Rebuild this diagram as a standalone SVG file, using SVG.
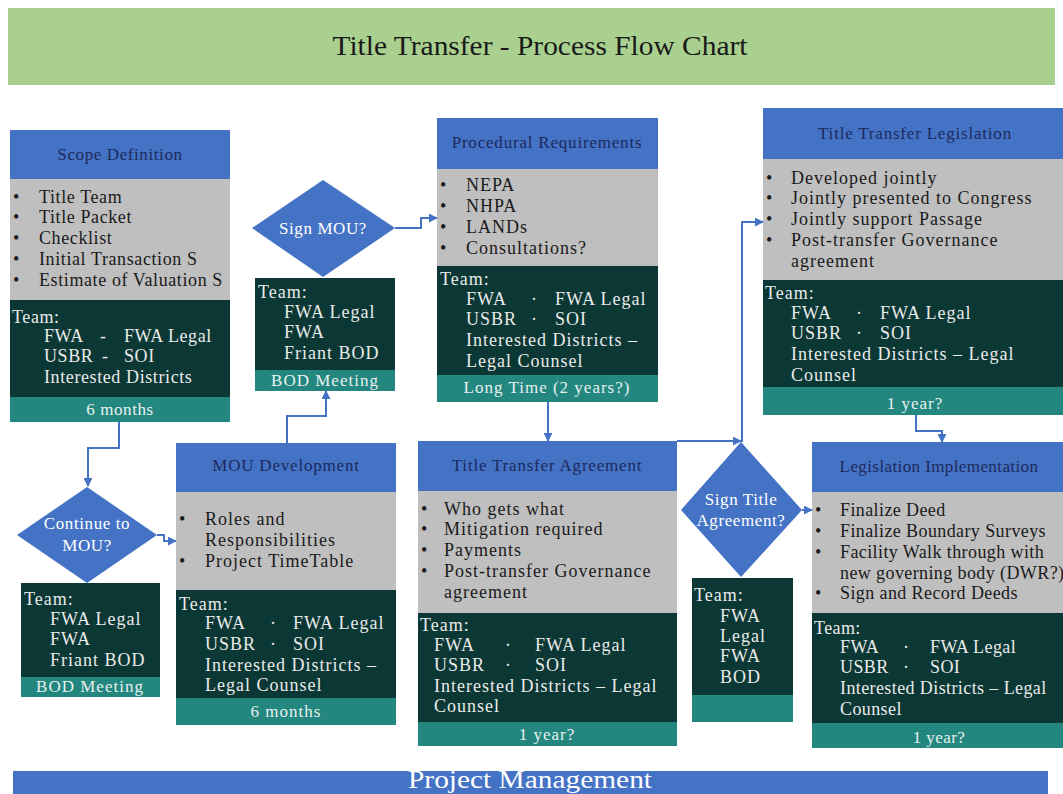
<svg xmlns="http://www.w3.org/2000/svg" width="1063" height="794" viewBox="0 0 1063 794">
<defs>
<style>
text{font-family:"Liberation Serif","Times New Roman",serif;font-size:18px;letter-spacing:1px}
.hd{fill:#4472c4}
.gy{fill:#bfbfbf}
.dk{fill:#0b3834}
.tl{fill:#23877f}
.ht{fill:#1c2a5e;text-anchor:middle;font-size:17px;letter-spacing:0.8px}
.bt{fill:#1a1a1a}
.tt{fill:#eaeaea}
.ft{fill:#e8f0ef;text-anchor:middle;font-size:17px}
.dm{fill:#4472c4}
.dt{fill:#ffffff;text-anchor:middle;font-size:17px;letter-spacing:0.6px}
.cn{fill:none;stroke:#4472c4;stroke-width:2}
#scope text{letter-spacing:0.6px}
#legislation-implementation text{letter-spacing:0.4px}
</style>
<marker id="ah" viewBox="0 0 10 10" refX="9" refY="5" markerWidth="9" markerHeight="9" markerUnits="userSpaceOnUse" orient="auto">
<path d="M0,0 L10,5 L0,10 z" fill="#4472c4"/>
</marker>
</defs>
<rect width="1063" height="794" fill="#ffffff"/>

<g id="title">
<rect x="8" y="8" width="1047" height="77" fill="#a9d08e"/>
<text x="540" y="55" style="font-size:28px;letter-spacing:0" fill="#1a1a1a" text-anchor="middle" textLength="415" lengthAdjust="spacingAndGlyphs">Title Transfer - Process Flow Chart</text>
</g>

<g id="scope">
<rect class="hd" x="10" y="130" width="220" height="49"/>
<rect class="gy" x="10" y="179" width="220" height="121"/>
<rect class="dk" x="10" y="300" width="220" height="97"/>
<rect class="tl" x="10" y="397" width="220" height="25"/>
<text class="ht" x="120" y="160">Scope Definition</text>
<text x="13" y="203" class="bt">•</text><text x="39" y="203" class="bt">Title Team</text>
<text x="13" y="223" class="bt">•</text><text x="39" y="223" class="bt">Title Packet</text>
<text x="13" y="244" class="bt">•</text><text x="39" y="244" class="bt">Checklist</text>
<text x="13" y="265" class="bt">•</text><text x="39" y="265" class="bt">Initial Transaction S</text>
<text x="13" y="286" class="bt">•</text><text x="39" y="286" class="bt">Estimate of Valuation S</text>
<text class="tt" x="12" y="323">Team:</text>
<text class="tt" x="44" y="342">FWA</text><text class="tt" x="100" y="342">-</text><text class="tt" x="124" y="342">FWA Legal</text>
<text class="tt" x="44" y="362">USBR</text><text class="tt" x="102" y="362">-</text><text class="tt" x="124" y="362">SOI</text>
<text class="tt" x="44" y="383">Interested Districts</text>
<text class="ft" x="120" y="415">6 months</text>
</g>

<g id="sign-mou">
<polygon class="dm" points="323,180 395,228 323,277 252,228"/>
<text class="dt" x="323" y="234">Sign MOU?</text>
<rect class="dk" x="255" y="278" width="140" height="92"/>
<rect class="tl" x="255" y="370" width="140" height="21"/>
<text class="tt" x="258" y="298">Team:</text>
<text class="tt" x="284" y="318">FWA Legal</text>
<text class="tt" x="284" y="338">FWA</text>
<text class="tt" x="284" y="359">Friant BOD</text>
<text class="ft" x="325" y="386">BOD Meeting</text>
</g>

<g id="procedural">
<rect class="hd" x="437" y="118" width="221" height="51"/>
<rect class="gy" x="437" y="169" width="221" height="97"/>
<rect class="dk" x="437" y="266" width="221" height="109"/>
<rect class="tl" x="437" y="375" width="221" height="27"/>
<text class="ht" x="547" y="148">Procedural Requirements</text>
<text class="bt" x="440" y="191">•</text><text class="bt" x="466" y="191">NEPA</text>
<text class="bt" x="440" y="212">•</text><text class="bt" x="466" y="212">NHPA</text>
<text class="bt" x="440" y="233">•</text><text class="bt" x="466" y="233">LANDs</text>
<text class="bt" x="440" y="254">•</text><text class="bt" x="466" y="254">Consultations?</text>
<text class="tt" x="440" y="285">Team:</text>
<text class="tt" x="466" y="305">FWA</text><text class="tt" x="531" y="305">·</text><text class="tt" x="555" y="305">FWA Legal</text>
<text class="tt" x="466" y="325">USBR</text><text class="tt" x="531" y="325">·</text><text class="tt" x="555" y="325">SOI</text>
<text class="tt" x="466" y="346">Interested Districts –</text>
<text class="tt" x="466" y="367">Legal Counsel</text>
<text class="ft" x="547" y="393">Long Time (2 years?)</text>
</g>

<g id="legislation">
<rect class="hd" x="763" y="108" width="300" height="51"/>
<rect class="gy" x="763" y="159" width="300" height="121"/>
<rect class="dk" x="763" y="280" width="300" height="107"/>
<rect class="tl" x="763" y="387" width="300" height="28"/>
<text class="ht" x="915" y="139">Title Transfer Legislation</text>
<text class="bt" x="766" y="184">•</text><text class="bt" x="791" y="184">Developed jointly</text>
<text class="bt" x="766" y="204">•</text><text class="bt" x="791" y="204">Jointly presented to Congress</text>
<text class="bt" x="766" y="225">•</text><text class="bt" x="791" y="225">Jointly support Passage</text>
<text class="bt" x="766" y="246">•</text><text class="bt" x="791" y="246">Post-transfer Governance</text>
<text class="bt" x="791" y="267">agreement</text>
<text class="tt" x="765" y="299">Team:</text>
<text class="tt" x="791" y="319">FWA</text><text class="tt" x="856" y="319">·</text><text class="tt" x="880" y="319">FWA Legal</text>
<text class="tt" x="791" y="339">USBR</text><text class="tt" x="856" y="339">·</text><text class="tt" x="880" y="339">SOI</text>
<text class="tt" x="791" y="360">Interested Districts – Legal</text>
<text class="tt" x="791" y="381">Counsel</text>
<text class="ft" x="915" y="409">1 year?</text>
</g>

<g id="continue-mou">
<polygon class="dm" points="87,487 157,535 87,583 17,535"/>
<text class="dt" x="87" y="529">Continue to</text>
<text class="dt" x="87" y="551">MOU?</text>
<rect class="dk" x="21" y="583" width="139" height="94"/>
<rect class="tl" x="21" y="677" width="139" height="20"/>
<text class="tt" x="24" y="605">Team:</text>
<text class="tt" x="50" y="625">FWA Legal</text>
<text class="tt" x="50" y="645">FWA</text>
<text class="tt" x="50" y="666">Friant BOD</text>
<text class="ft" x="90" y="692">BOD Meeting</text>
</g>

<g id="mou-development">
<rect class="hd" x="176" y="443" width="220" height="49"/>
<rect class="gy" x="176" y="492" width="220" height="98"/>
<rect class="dk" x="176" y="590" width="220" height="108"/>
<rect class="tl" x="176" y="698" width="220" height="27"/>
<text class="ht" x="286" y="471">MOU Development</text>
<text class="bt" x="179" y="525">•</text><text class="bt" x="205" y="525">Roles and</text>
<text class="bt" x="205" y="546">Responsibilities</text>
<text class="bt" x="179" y="567">•</text><text class="bt" x="205" y="567">Project TimeTable</text>
<text class="tt" x="179" y="610">Team:</text>
<text class="tt" x="205" y="629">FWA</text><text class="tt" x="270" y="629">·</text><text class="tt" x="293" y="629">FWA Legal</text>
<text class="tt" x="205" y="650">USBR</text><text class="tt" x="270" y="650">·</text><text class="tt" x="293" y="650">SOI</text>
<text class="tt" x="205" y="671">Interested Districts –</text>
<text class="tt" x="205" y="691">Legal Counsel</text>
<text class="ft" x="286" y="717">6 months</text>
</g>

<g id="title-transfer-agreement">
<rect class="hd" x="418" y="441" width="259" height="50"/>
<rect class="gy" x="418" y="491" width="259" height="122"/>
<rect class="dk" x="418" y="613" width="259" height="109"/>
<rect class="tl" x="418" y="722" width="259" height="24"/>
<text class="ht" x="547" y="471">Title Transfer Agreement</text>
<text class="bt" x="421" y="515">•</text><text class="bt" x="444" y="515">Who gets what</text>
<text class="bt" x="421" y="535">•</text><text class="bt" x="444" y="535">Mitigation required</text>
<text class="bt" x="421" y="556">•</text><text class="bt" x="444" y="556">Payments</text>
<text class="bt" x="421" y="577">•</text><text class="bt" x="444" y="577">Post-transfer Governance</text>
<text class="bt" x="444" y="598">agreement</text>
<text class="tt" x="420" y="631">Team:</text>
<text class="tt" x="434" y="651">FWA</text><text class="tt" x="505" y="651">·</text><text class="tt" x="535" y="651">FWA Legal</text>
<text class="tt" x="434" y="671">USBR</text><text class="tt" x="505" y="671">·</text><text class="tt" x="535" y="671">SOI</text>
<text class="tt" x="434" y="692">Interested Districts – Legal</text>
<text class="tt" x="434" y="712">Counsel</text>
<text class="ft" x="547" y="740">1 year?</text>
</g>

<g id="sign-title-agreement">
<polygon class="dm" points="741,442 802,510 741,577 681,510"/>
<text class="dt" x="741" y="505">Sign Title</text>
<text class="dt" x="741" y="526">Agreement?</text>
<rect class="dk" x="692" y="578" width="101" height="117"/>
<rect class="tl" x="692" y="695" width="101" height="27"/>
<text class="tt" x="694" y="601">Team:</text>
<text class="tt" x="720" y="622">FWA</text>
<text class="tt" x="720" y="642">Legal</text>
<text class="tt" x="720" y="662">FWA</text>
<text class="tt" x="720" y="683">BOD</text>
</g>

<g id="legislation-implementation">
<rect class="hd" x="812" y="442" width="251" height="50"/>
<rect class="gy" x="812" y="492" width="251" height="121"/>
<rect class="dk" x="812" y="613" width="251" height="110"/>
<rect class="tl" x="812" y="723" width="251" height="25"/>
<text class="ht" x="939" y="472">Legislation Implementation</text>
<text class="bt" x="815" y="516">•</text><text class="bt" x="840" y="516">Finalize Deed</text>
<text class="bt" x="815" y="537">•</text><text class="bt" x="840" y="537">Finalize Boundary Surveys</text>
<text class="bt" x="815" y="558">•</text><text class="bt" x="840" y="558">Facility Walk through with</text>
<text class="bt" x="840" y="579">new governing body (DWR?)</text>
<text class="bt" x="815" y="599">•</text><text class="bt" x="840" y="599">Sign and Record Deeds</text>
<text class="tt" x="814" y="634">Team:</text>
<text class="tt" x="840" y="653">FWA</text><text class="tt" x="903" y="653">·</text><text class="tt" x="930" y="653">FWA Legal</text>
<text class="tt" x="840" y="673">USBR</text><text class="tt" x="903" y="673">·</text><text class="tt" x="930" y="673">SOI</text>
<text class="tt" x="840" y="694">Interested Districts – Legal</text>
<text class="tt" x="840" y="715">Counsel</text>
<text class="ft" x="939" y="743">1 year?</text>
</g>

<g id="project-management">
<rect x="13" y="771" width="1035" height="30" fill="#4472c4"/>
<text x="530" y="788" style="font-size:25px;letter-spacing:0" fill="#ffffff" text-anchor="middle" textLength="244" lengthAdjust="spacingAndGlyphs">Project Management</text>
</g>

<g id="connectors">
<path class="cn" d="M119,422 V448 H88 V486" marker-end="url(#ah)"/>
<path class="cn" d="M157,535 H164 V541 H176" marker-end="url(#ah)"/>
<path class="cn" d="M287,443 V416 H326 V391" marker-end="url(#ah)"/>
<path class="cn" d="M395,228 H421 V218 H437" marker-end="url(#ah)"/>
<path class="cn" d="M548,402 V441" marker-end="url(#ah)"/>
<path class="cn" d="M677,441 H741" marker-end="url(#ah)"/>
<path class="cn" d="M742,442 V222 H763" marker-end="url(#ah)"/>
<path class="cn" d="M916,415 V431 H942 V442" marker-end="url(#ah)"/>
<path class="cn" d="M802,510 H812" marker-end="url(#ah)"/>
</g>
</svg>
